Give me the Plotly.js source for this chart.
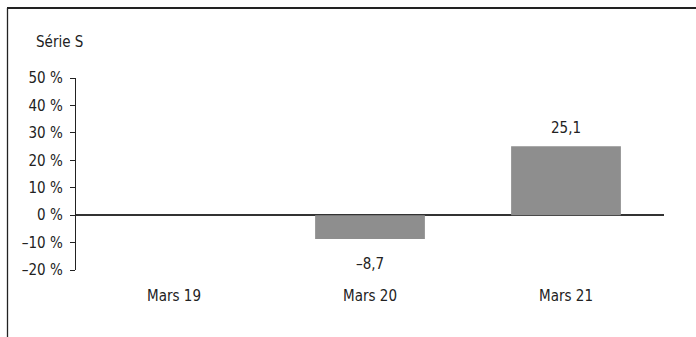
<!DOCTYPE html>
<html><head><meta charset="utf-8">
<script src="https://cdn.plot.ly/plotly-3.0.1.min.js"></script>
<style>html,body{margin:0;padding:0;background:#fff}#c{width:696px;height:337px}</style>
</head><body><div id="c"></div>
<script>
const categories = ["Mars 19", "Mars 20", "Mars 21"];
const values = [null, -8.7, 25.1];
const yTickVals = [-20, -10, 0, 10, 20, 30, 40, 50];
const yTickText = ["–20 %", "–10 %", "0 %", "10 %", "20 %", "30 %", "40 %", "50 %"];
const seriesTitle = "Série S";

const fmt = v => (v < 0 ? "–" : "") + Math.abs(v).toFixed(1).replace(".", ",");
const FONT = "DejaVu Sans Condensed, Liberation Sans Narrow, sans-serif";
const FS = 15;

const trace = {
  type: "bar",
  x: categories,
  y: values,
  marker: {color: "#8e8e8e"},
  width: 0.56,
  hoverinfo: "none"
};

const annotations = categories.map((c, i) => values[i] === null ? null : ({
  x: c, y: values[i], xref: "x", yref: "y", text: fmt(values[i]), showarrow: false,
  yanchor: values[i] >= 0 ? "bottom" : "top", yshift: values[i] >= 0 ? 7 : -14,
  font: {family: FONT, size: FS, color: "#222"}
})).filter(a => a);

const L = 76, R = 32, T = 78, B = 67, W = 696, H = 337;
const pw = W - L - R, ph = H - T - B;
const px = x => (x - L) / pw;
const py = y => (H - B - y) / ph;

const layout = {
  width: W, height: H,
  margin: {l: L, r: R, t: T, b: B, pad: 0},
  paper_bgcolor: "#fff", plot_bgcolor: "#fff",
  font: {family: FONT, size: FS, color: "#222"},
  showlegend: false,
  annotations: annotations,
  title: {text: seriesTitle, xref: "container", yref: "container", x: 36/W, xanchor: "left", y: 1 - 42/H, yanchor: "middle", font: {family: FONT, size: FS, color: "#222"}},
  xaxis: {showline: false, ticks: "", showgrid: false, zeroline: false, ticklabelstandoff: 15, tickfont: {family: FONT, size: FS, color: "#222"}},
  yaxis: {range: [-20, 50], tickvals: yTickVals, ticktext: yTickText, ticks: "outside", ticklen: 5, tickwidth: 1, tickcolor: "#222",
          showline: true, linecolor: "#222", linewidth: 1.2, showgrid: false, zeroline: true, zerolinecolor: "#333", zerolinewidth: 1.5,
          ticklabelstandoff: 4, tickfont: {family: FONT, size: FS, color: "#222"}},
  shapes: [
    {type: "line", xref: "paper", yref: "paper", x0: px(7.5), x1: px(7.5), y0: py(8), y1: py(H + 2), line: {color: "#222", width: 1.3}},
    {type: "line", xref: "paper", yref: "paper", x0: px(7), x1: px(W + 2), y0: py(8), y1: py(8), line: {color: "#222", width: 1.8}}
  ]
};

Plotly.newPlot("c", [trace], layout, {staticPlot: true, displayModeBar: false});
</script></body></html>
